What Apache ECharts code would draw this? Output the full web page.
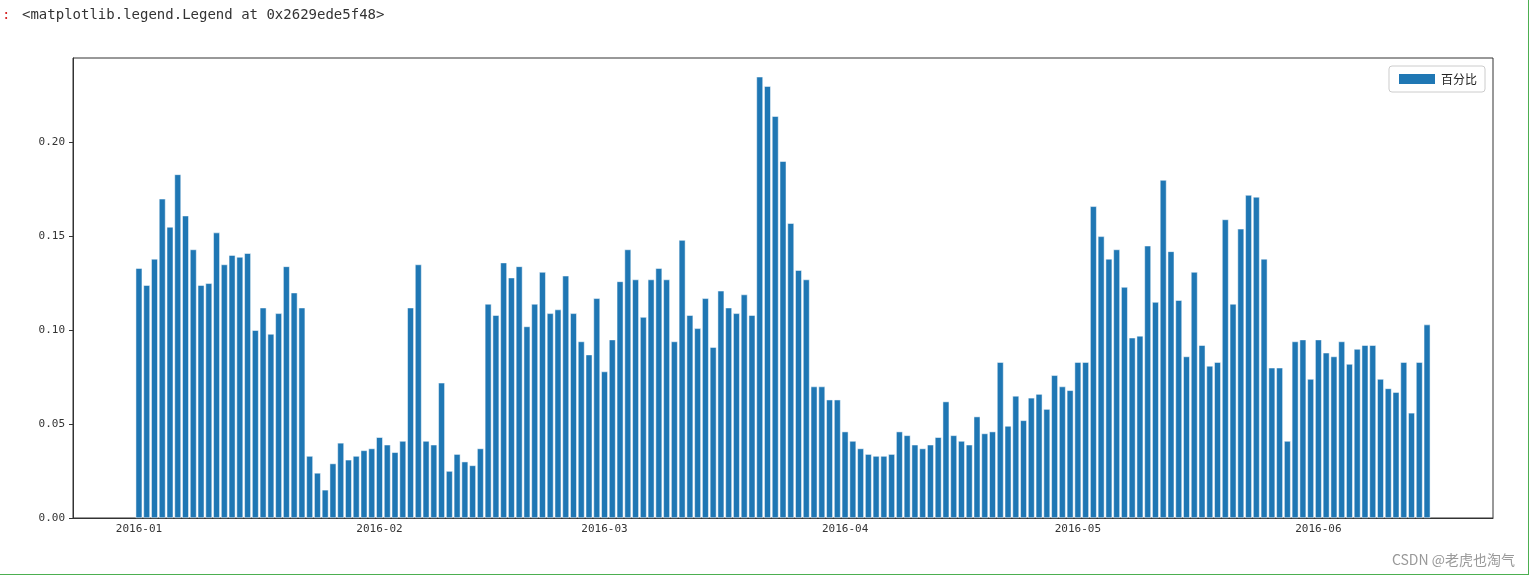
<!DOCTYPE html>
<html><head><meta charset="utf-8">
<script src="https://cdn.jsdelivr.net/npm/echarts@6/dist/echarts.min.js"></script>
<style>html,body{margin:0;padding:0;background:#fff}#c{width:1529px;height:575px}</style>
</head><body><div id="c"></div>
<script>
const values = [
0.133,0.124,0.138,0.170,0.155,0.183,0.161,0.143,0.124,0.125,0.152,0.135,0.140,0.139,0.141,0.100,0.112,0.098,0.109,0.134,0.120,0.112,0.033,0.024,0.015,0.029,0.040,0.031,0.033,0.036,0.037,
0.043,0.039,0.035,0.041,0.112,0.135,0.041,0.039,0.072,0.025,0.034,0.030,0.028,0.037,0.114,0.108,0.136,0.128,0.134,0.102,0.114,0.131,0.109,0.111,0.129,0.109,0.094,0.087,0.117,
0.078,0.095,0.126,0.143,0.127,0.107,0.127,0.133,0.127,0.094,0.148,0.108,0.101,0.117,0.091,0.121,0.112,0.109,0.119,0.108,0.235,0.230,0.214,0.190,0.157,0.132,0.127,0.070,0.070,0.063,0.063,
0.046,0.041,0.037,0.034,0.033,0.033,0.034,0.046,0.044,0.039,0.037,0.039,0.043,0.062,0.044,0.041,0.039,0.054,0.045,0.046,0.083,0.049,0.065,0.052,0.064,0.066,0.058,0.076,0.070,0.068,
0.083,0.083,0.166,0.150,0.138,0.143,0.123,0.096,0.097,0.145,0.115,0.180,0.142,0.116,0.086,0.131,0.092,0.081,0.083,0.159,0.114,0.154,0.172,0.171,0.138,0.080,0.080,0.041,0.094,0.095,0.074,
0.095,0.088,0.086,0.094,0.082,0.090,0.092,0.092,0.074,0.069,0.067,0.083,0.056,0.083,0.103
];
const startDate = '2016-01-01';
const padBefore = 8, totalCats = 183;
const yTicks = [0, 0.05, 0.10, 0.15, 0.20];

function fmt(d){return d.getUTCFullYear()+'-'+String(d.getUTCMonth()+1).padStart(2,'0')+'-'+String(d.getUTCDate()).padStart(2,'0');}
const cats=[], data=[];
const s=new Date(startDate+'T00:00:00Z');
for(let i=0;i<totalCats;i++){
  const d=new Date(s.getTime()+(i-padBefore)*86400000);
  cats.push(fmt(d));
  const k=i-padBefore;
  data.push(k>=0&&k<values.length?values[k]:null);
}
const isMonth=(idx)=>cats[idx].endsWith('-01');
const chart=echarts.init(document.getElementById('c'));
chart.setOption({
  animation:false,
  grid:{left:73,right:36,top:58,bottom:57,show:true,borderColor:'#333',borderWidth:1},
  legend:{right:44,top:66,icon:'rect',itemWidth:38,itemHeight:12,padding:[6,8],borderColor:'#ccc',borderWidth:1,borderRadius:3,
    textStyle:{fontFamily:'Noto Sans CJK SC',fontSize:12,color:'#222'},data:['百分比']},
  xAxis:{type:'category',data:cats,boundaryGap:true,
    axisLine:{lineStyle:{color:'#333'}},
    axisTick:{alignWithLabel:true,interval:isMonth,length:4,lineStyle:{color:'#333'}},
    axisLabel:{interval:isMonth,formatter:v=>v.slice(0,7),color:'#333',fontSize:11,fontFamily:'DejaVu Sans Mono',margin:6},
    splitLine:{show:false}},
  yAxis:{type:'value',min:0,max:0.245,interval:0.05,
    axisLine:{show:true,lineStyle:{color:'#333'}},axisTick:{show:true,length:4,customValues:yTicks,lineStyle:{color:'#333'}},
    axisLabel:{customValues:yTicks,formatter:v=>v.toFixed(2),color:'#333',fontSize:11,fontFamily:'DejaVu Sans Mono',margin:8},
    splitLine:{show:false}},
  series:[{name:'百分比',type:'bar',data:data,barWidth:'84%',itemStyle:{color:'#1f77b4',borderColor:'#fff',borderWidth:0.5}}],
  graphic:[
    {type:'text',left:2,top:8,style:{text:':',fill:'#d62728',font:'14px DejaVu Sans Mono'}},
    {type:'text',left:22,top:8,style:{text:'<matplotlib.legend.Legend at 0x2629ede5f48>',fill:'#333',font:'14px DejaVu Sans Mono'}},
    {type:'text',right:14,bottom:8,style:{text:'CSDN @老虎也淘气',fill:'#999',font:'14px "Noto Sans CJK SC"'}},
    {type:'rect',right:0,top:0,shape:{width:1,height:575},style:{fill:'#4caf50'}},
    {type:'rect',left:0,bottom:0,shape:{width:1529,height:1},style:{fill:'#4caf50'}}
  ]
});
</script></body></html>
